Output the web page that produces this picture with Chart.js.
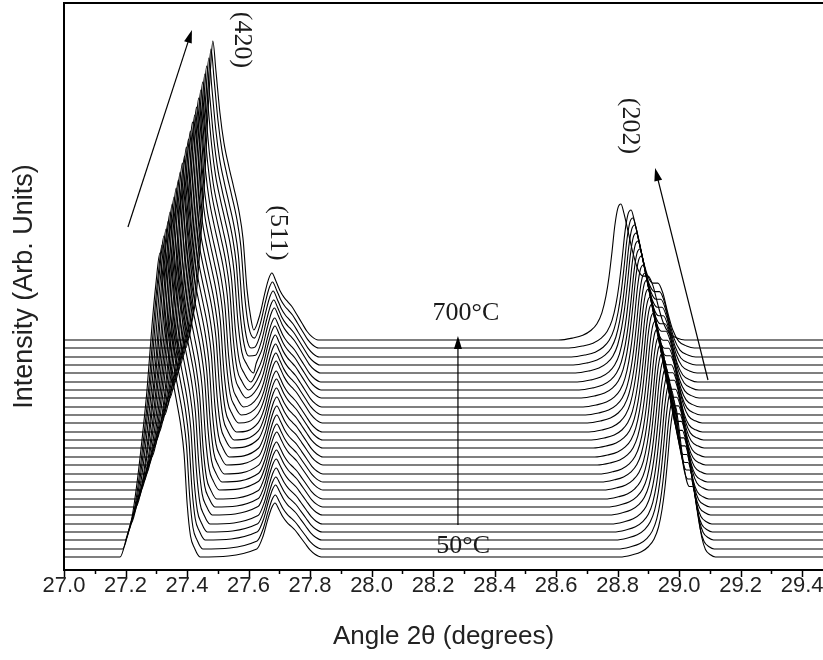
<!DOCTYPE html>
<html><head><meta charset="utf-8">
<script src="https://cdn.jsdelivr.net/npm/chart.js@4.4.0/dist/chart.umd.min.js"></script>
<style>html,body{margin:0;padding:0;background:#fff}#wrap{width:823px;height:660px}</style>
</head><body><div id="wrap"><canvas id="c" width="823" height="660"></canvas></div>
<script>
// ---- data ----
const temperatures = [50, 75, 100, 125, 150, 175, 200, 225, 250, 275, 300, 325, 350, 375, 400, 425, 450, 475, 500, 525, 550, 575, 600, 625, 650, 675, 700];
const baseOffset = [13, 21, 30, 38, 46, 55, 63, 71, 80, 88, 96, 105, 113, 122, 130, 138, 147, 155, 163, 172, 180, 188, 197, 205, 213, 222, 230];
// (420) peak
const pos420 = [27.312, 27.319, 27.325, 27.332, 27.339, 27.345, 27.352, 27.358, 27.365, 27.372, 27.378, 27.385, 27.392, 27.398, 27.405, 27.411, 27.418, 27.425, 27.431, 27.438, 27.445, 27.451, 27.458, 27.464, 27.471, 27.478, 27.484];
const h420 = [304, 304, 304, 303, 303, 303, 303, 302, 302, 302, 302, 302, 301, 301, 301, 301, 301, 300, 300, 300, 300, 300, 299, 299, 299, 299, 299];
const w420L = [1.00, 0.99, 0.97, 0.96, 0.94, 0.93, 0.91, 0.90, 0.88, 0.87, 0.85, 0.84, 0.82, 0.81, 0.80, 0.78, 0.77, 0.75, 0.74, 0.72, 0.71, 0.69, 0.68, 0.66, 0.65, 0.63, 0.62];
const w420R = [0.80, 0.81, 0.82, 0.82, 0.83, 0.84, 0.85, 0.85, 0.86, 0.87, 0.88, 0.88, 0.89, 0.90, 0.91, 0.92, 0.92, 0.93, 0.94, 0.95, 0.95, 0.96, 0.97, 0.98, 0.98, 0.99, 1.00];
// (511) peak
const pos511 = [27.686, 27.687, 27.688, 27.689, 27.690, 27.690, 27.691, 27.691, 27.692, 27.692, 27.692, 27.692, 27.692, 27.691, 27.691, 27.690, 27.690, 27.689, 27.688, 27.687, 27.686, 27.685, 27.684, 27.682, 27.680, 27.678, 27.676];
const h511 = [54, 54, 55, 55, 56, 56, 57, 57, 58, 58, 59, 59, 60, 60, 61, 61, 62, 62, 63, 63, 64, 64, 65, 65, 66, 66, 67];
// (202) peak
const pos202 = [28.989, 28.983, 28.977, 28.971, 28.965, 28.959, 28.953, 28.947, 28.942, 28.936, 28.930, 28.924, 28.918, 28.913, 28.907, 28.901, 28.896, 28.890, 28.884, 28.878, 28.873, 28.867, 28.861, 28.856, 28.850, 28.844, 28.811];
const h202 = [150, 149, 149, 148, 148, 147, 147, 146, 146, 145, 145, 144, 144, 144, 143, 143, 143, 142, 142, 142, 141, 141, 140, 140, 139, 138, 136];
const w202L = [0.90, 0.90, 0.91, 0.91, 0.92, 0.92, 0.92, 0.93, 0.93, 0.94, 0.94, 0.94, 0.95, 0.95, 0.95, 0.96, 0.96, 0.96, 0.97, 0.97, 0.98, 0.98, 0.98, 0.99, 0.99, 1.00, 1.00];
const w202R = [0.62, 0.63, 0.65, 0.66, 0.68, 0.69, 0.71, 0.72, 0.74, 0.75, 0.77, 0.78, 0.80, 0.81, 0.83, 0.84, 0.86, 0.87, 0.89, 0.90, 0.92, 0.93, 0.95, 0.96, 0.98, 0.99, 1.00];
// peak outlines (offset from the peak top in degrees, relative intensity)
const prof420Off = [-0.130, -0.107, -0.091, -0.075, -0.059, -0.042, -0.026, -0.013, 0, 0.010, 0.023, 0.036, 0.052, 0.068, 0.085, 0.098, 0.111, 0.124, 0.140, 0.163];
const prof420Val = [0, 0.07, 0.13, 0.24, 0.38, 0.55, 0.76, 0.90, 1, 0.90, 0.76, 0.66, 0.58, 0.51, 0.43, 0.34, 0.17, 0.07, 0.03, 0];
const prof511Off = [-0.098, -0.078, -0.059, -0.039, -0.023, -0.010, 0, 0.013, 0.026, 0.039, 0.052, 0.065, 0.081, 0.098, 0.114, 0.130, 0.150];
const prof511Val = [0, 0.05, 0.15, 0.38, 0.70, 0.92, 1, 0.88, 0.74, 0.64, 0.57, 0.50, 0.38, 0.25, 0.13, 0.05, 0];
const prof202Off = [-0.202, -0.156, -0.124, -0.098, -0.078, -0.062, -0.049, -0.039, -0.029, -0.020, -0.010, 0, 0.010, 0.023, 0.039, 0.055, 0.072, 0.088, 0.104, 0.120, 0.137, 0.156, 0.182, 0.208];
const prof202Val = [0, 0.015, 0.035, 0.07, 0.12, 0.20, 0.32, 0.46, 0.65, 0.84, 0.97, 1, 0.93, 0.80, 0.64, 0.52, 0.47, 0.47, 0.40, 0.26, 0.13, 0.05, 0.015, 0];
const xTickValues = [27.0, 27.2, 27.4, 27.6, 27.8, 28.0, 28.2, 28.4, 28.6, 28.8, 29.0, 29.2, 29.4];

// ---- annotations (data coordinates) ----
const labelsText = [
  {t: '(420)', x: 27.579, y: 530, rot: true},
  {t: '(511)', x: 27.696, y: 337, rot: true},
  {t: '(202)', x: 28.841, y: 444, rot: true},
  {t: '700\u00B0C', x: 28.307, y: 257, rot: false},
  {t: '50\u00B0C', x: 28.298, y: 24, rot: false}
];
const arrowsDef = [
  {x1: 27.208, y1: 343, x2: 27.416, y2: 540},
  {x1: 28.281, y1: 45, x2: 28.281, y2: 234},
  {x1: 29.094, y1: 190, x2: 28.922, y2: 402}
];

// ---- build series ----
function buildCurve(i) {
  const off = baseOffset[i];
  const pts = [{x: 27.0, y: off}];
  const cut = pos511[i] - 0.065;
  for (let k = 0; k < prof420Off.length; k++) {
    const o = prof420Off[k];
    const x = pos420[i] + o * (o < 0 ? w420L[i] : w420R[i]);
    if (x > 27.0 && x < cut) pts.push({x, y: off + h420[i] * prof420Val[k]});
  }
  for (let k = 0; k < prof511Off.length; k++) {
    const x = pos511[i] + prof511Off[k];
    if (x >= cut) pts.push({x, y: off + h511[i] * prof511Val[k]});
  }
  for (let k = 0; k < prof202Off.length; k++) {
    const o = prof202Off[k];
    const x = pos202[i] + o * (o < 0 ? w202L[i] : w202R[i]);
    pts.push({x, y: off + h202[i] * prof202Val[k]});
  }
  pts.push({x: 29.5, y: off});
  return pts;
}
const datasets = temperatures.map((t, i) => ({
  label: t + '\u00B0C',
  data: buildCurve(i),
  borderColor: '#000',
  borderWidth: 1.1,
  pointRadius: 0,
  fill: false,
  cubicInterpolationMode: 'monotone'
}));

const decorPlugin = {
  id: 'decor',
  afterDraw(chart) {
    const {ctx, chartArea: a, scales: {x, y}} = chart;
    ctx.save();
    // frame
    ctx.strokeStyle = '#000';
    ctx.lineWidth = 2;
    ctx.beginPath();
    ctx.moveTo(a.left, a.bottom); ctx.lineTo(a.left, a.top); ctx.lineTo(a.right + 2, a.top);
    ctx.moveTo(a.left - 1, a.bottom); ctx.lineTo(a.right + 2, a.bottom);
    ctx.stroke();
    // ticks
    ctx.lineWidth = 1.5;
    ctx.beginPath();
    for (let v = 270; v <= 294; v++) {
      const px = Math.round(x.getPixelForValue(v / 10)) + 0.5;
      const len = v % 2 === 0 ? 7 : 4;
      ctx.moveTo(px, a.bottom); ctx.lineTo(px, a.bottom + len);
    }
    ctx.stroke();
    // arrows
    ctx.lineWidth = 1.2;
    ctx.fillStyle = '#000';
    arrowsDef.forEach(ar => {
      const x1 = x.getPixelForValue(ar.x1), y1 = y.getPixelForValue(ar.y1);
      const x2 = x.getPixelForValue(ar.x2), y2 = y.getPixelForValue(ar.y2);
      const ang = Math.atan2(y2 - y1, x2 - x1);
      const hl = 13, hw = 4;
      ctx.beginPath(); ctx.moveTo(x1, y1);
      ctx.lineTo(x2 - hl * Math.cos(ang) * 0.8, y2 - hl * Math.sin(ang) * 0.8); ctx.stroke();
      ctx.beginPath();
      ctx.moveTo(x2, y2);
      ctx.lineTo(x2 - hl * Math.cos(ang) + hw * Math.sin(ang), y2 - hl * Math.sin(ang) - hw * Math.cos(ang));
      ctx.lineTo(x2 - hl * Math.cos(ang) - hw * Math.sin(ang), y2 - hl * Math.sin(ang) + hw * Math.cos(ang));
      ctx.closePath(); ctx.fill();
    });
    // labels
    ctx.fillStyle = '#1a1a1a';
    ctx.font = "26px 'Liberation Serif', 'Times New Roman', serif";
    ctx.textAlign = 'center'; ctx.textBaseline = 'middle';
    labelsText.forEach(l => {
      const px = x.getPixelForValue(l.x), py = y.getPixelForValue(l.y);
      ctx.save();
      ctx.translate(px, py);
      if (l.rot) ctx.rotate(Math.PI / 2);
      ctx.fillText(l.t, 0, 0);
      ctx.restore();
    });
    ctx.restore();
  }
};

new Chart(document.getElementById('c'), {
  type: 'line',
  data: {datasets},
  options: {
    responsive: false,
    animation: false,
    devicePixelRatio: 1,
    parsing: false,
    normalized: true,
    layout: {padding: {top: 3, right: 0, left: 0, bottom: 0}},
    plugins: {legend: {display: false}, tooltip: {enabled: false}},
    scales: {
      x: {
        type: 'linear', min: 27.0, max: 29.468,
        afterFit(s) { s.height = 90; },
        afterBuildTicks(s) { s.ticks = xTickValues.map(v => ({value: v})); },
        grid: {display: false, drawTicks: true, tickLength: 8},
        border: {display: false},
        ticks: {
          padding: -5, maxRotation: 0, autoSkip: false,
          color: '#222',
          font: {family: "'Liberation Sans', Arial, sans-serif", size: 22},
          callback: v => Number(v).toFixed(1)
        },
        title: {
          display: true, text: 'Angle 2\u03B8 (degrees)', color: '#222',
          font: {family: "'Liberation Sans', Arial, sans-serif", size: 26},
          padding: {top: 0, bottom: 8}
        }
      },
      y: {
        type: 'linear', min: 0, max: 567,
        afterFit(s) { s.width = 64; },
        grid: {display: false},
        border: {display: false},
        ticks: {display: false},
        title: {
          display: true, text: 'Intensity (Arb. Units)', color: '#222',
          font: {family: "'Liberation Sans', Arial, sans-serif", size: 27},
          padding: {top: 8, bottom: 0}
        }
      }
    }
  },
  plugins: [decorPlugin]
});
</script>
</body></html>
